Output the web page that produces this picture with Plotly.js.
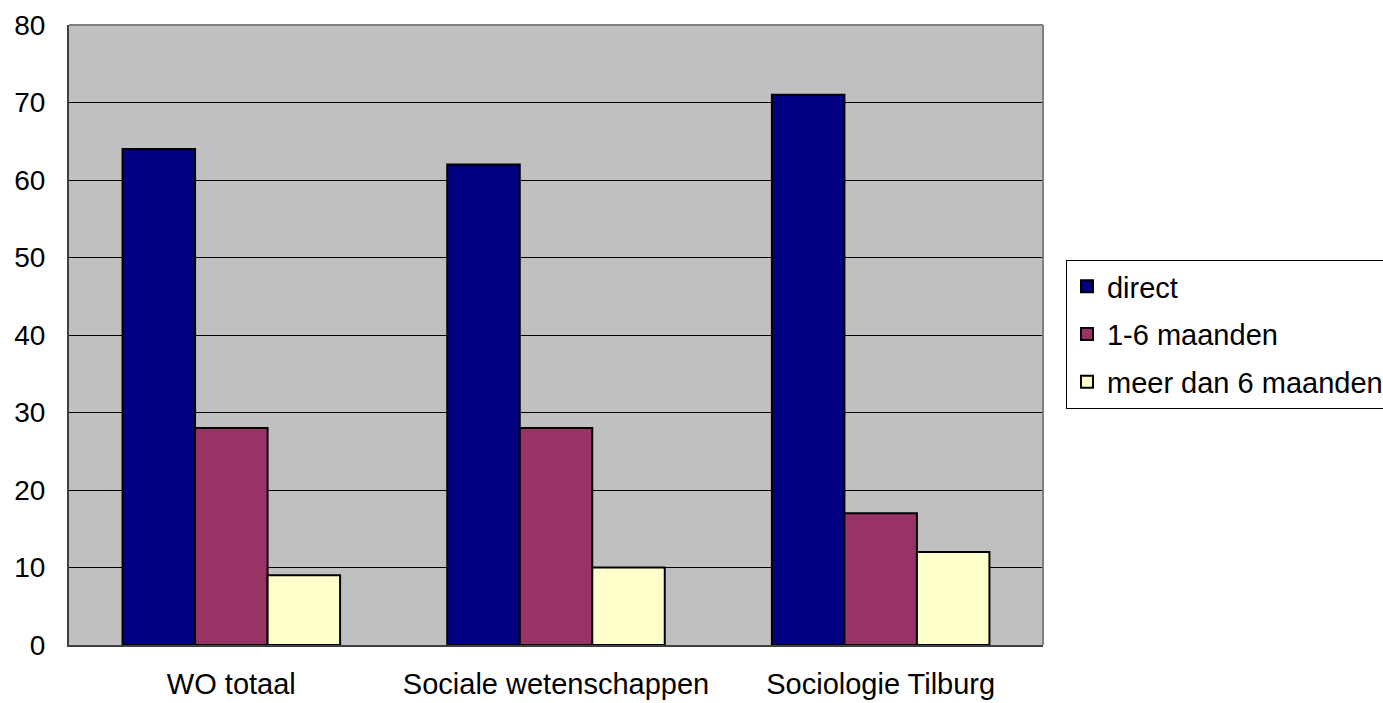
<!DOCTYPE html>
<html><head><meta charset="utf-8">
<script src="https://cdn.plot.ly/plotly-3.0.1.min.js"></script>
<style>html,body{margin:0;padding:0;background:#fff}#chart{width:1383px;height:703px}</style>
</head><body><div id="chart"></div>
<script>
var categories = ["WO totaal", "Sociale wetenschappen", "Sociologie Tilburg"];
var seriesNames = ["direct", "1-6 maanden", "meer dan 6 maanden"];
var direct = [64, 62, 71];
var maanden1_6 = [28, 28, 17];
var meerDan6 = [9, 10, 12];
var colors = ["#000080", "#993366", "#FFFFCC"];
var values = [direct, maanden1_6, meerDan6];

var traces = values.map(function(v, i){
  return {type:'bar', x:categories, y:v, name:seriesNames[i], legendgroup:'g'+i,
    marker:{color:colors[i], line:{color:'#000', width:2}}};
});

var layout = {
  width:1383, height:703,
  margin:{l:69, r:340, t:25, b:58, autoexpand:false},
  paper_bgcolor:'#fff', plot_bgcolor:'#C0C0C0',
  barmode:'group', bargap:0.33, bargroupgap:0,
  font:{family:'"Liberation Sans", Arial, sans-serif', size:28, color:'#000'},
  xaxis:{showgrid:false, showline:true, linecolor:'#404040', linewidth:2, ticks:'', ticklabelstandoff:12, tickfont:{size:29}, fixedrange:true, automargin:false},
  yaxis:{range:[0,80], dtick:10, showgrid:true, gridcolor:'#000', gridwidth:1, showline:true, linecolor:'#404040', linewidth:2,
    ticks:'', ticklabelstandoff:16, tickfont:{size:28}, zeroline:false, fixedrange:true, automargin:false},
  shapes:[
    {type:'line', xref:'paper', yref:'paper', x0:0, x1:1, y0:1, y1:1, line:{color:'#808080', width:2}},
    {type:'line', xref:'paper', yref:'paper', x0:1, x1:1, y0:0, y1:1, line:{color:'#808080', width:2}}
  ],
  legend:{x:1.0236, xanchor:'left', y:0.6210, yanchor:'top', bordercolor:'#000', borderwidth:1, bgcolor:'#fff',
    font:{size:29}, tracegroupgap:7, traceorder:'grouped'},
  showlegend:true
};
Plotly.newPlot('chart', traces, layout, {displayModeBar:false, staticPlot:true});
</script></body></html>
